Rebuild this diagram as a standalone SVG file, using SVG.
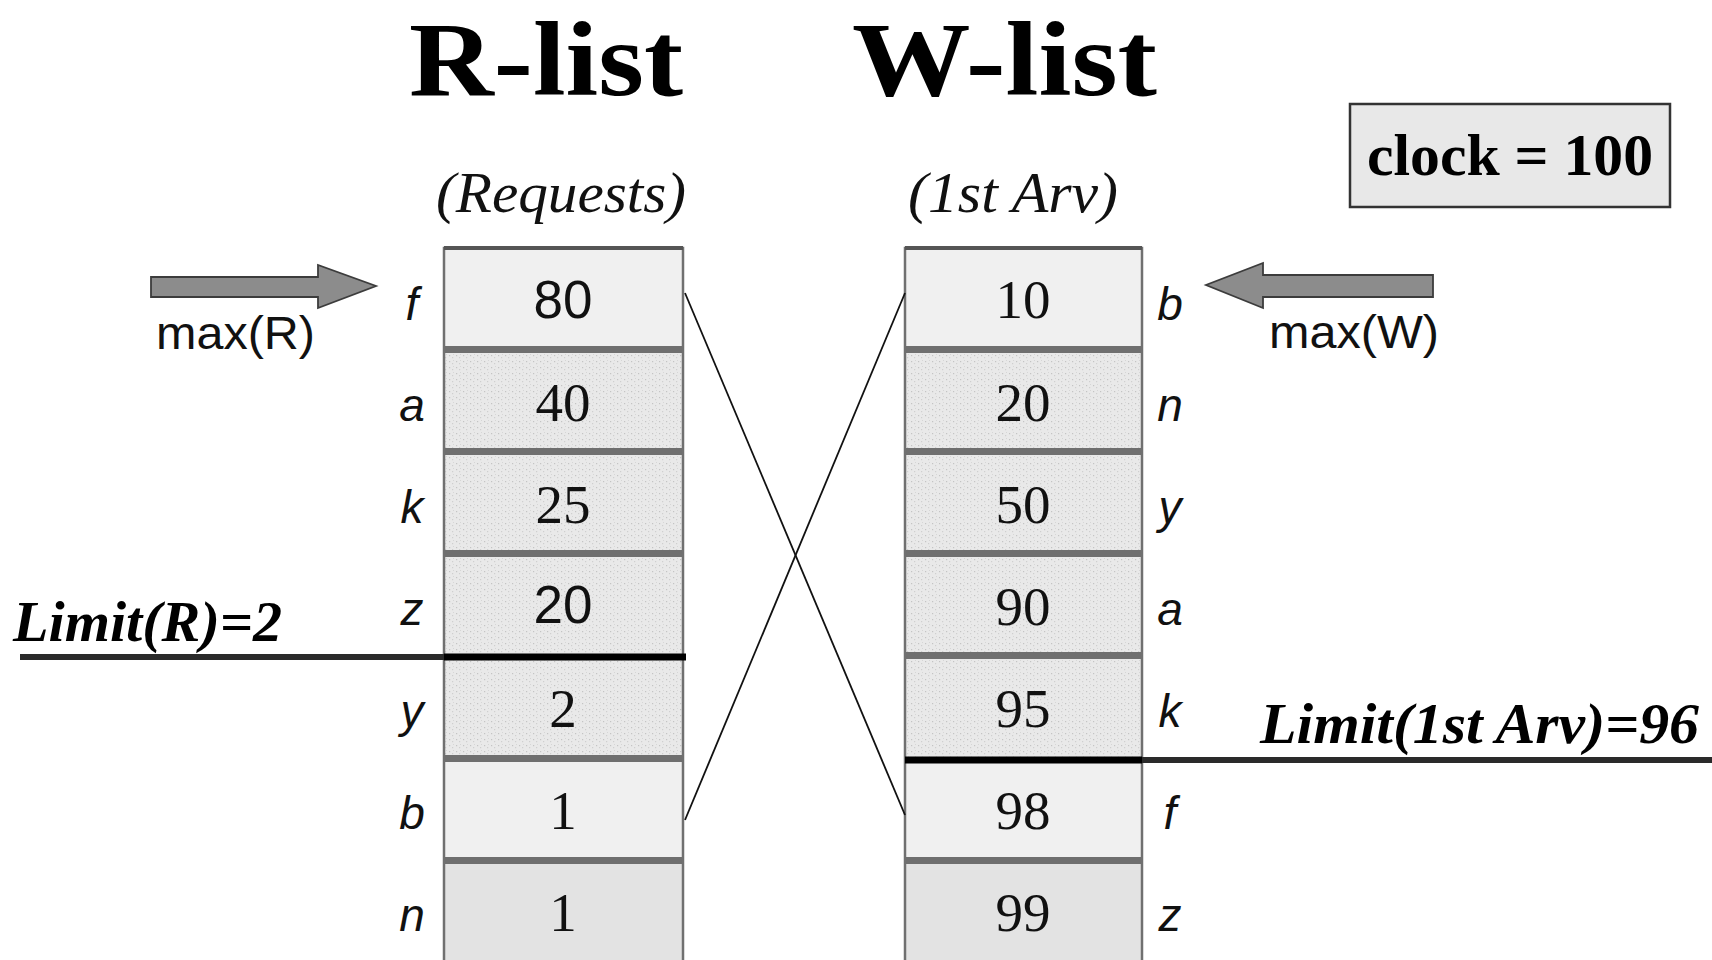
<svg xmlns="http://www.w3.org/2000/svg" width="1712" height="960" viewBox="0 0 1712 960">
  <defs>
    <!-- halftone-like speckle for the shaded cells -->
    <pattern id="speckle" width="7" height="6" patternUnits="userSpaceOnUse">
      <rect width="7" height="6" fill="#e9e9e9"/>
      <rect x="1" y="1" width="1.2" height="1.2" fill="#c4c4c4"/>
      <rect x="4" y="3" width="1.2" height="1.2" fill="#cfcfcf"/>
      <rect x="5" y="0" width="1" height="1" fill="#d6d6d6"/>
    </pattern>
    <style>
      .title { font-family: "Liberation Serif", "Times New Roman", serif; font-weight: bold; font-size: 106px; fill: #000; }
      .sub { font-family: "Liberation Serif", "Times New Roman", serif; font-style: italic; font-size: 58px; fill: #111; }
      .limit { font-family: "Liberation Serif", "Times New Roman", serif; font-style: italic; font-weight: bold; font-size: 57px; fill: #000; }
      .num { font-family: "Liberation Serif", "Times New Roman", serif; font-size: 55px; fill: #111; text-anchor: middle; }
      .numsans { font-family: "Liberation Sans", Arial, sans-serif; font-size: 53px; fill: #111; text-anchor: middle; }
      .key { font-family: "Liberation Sans", Arial, sans-serif; font-style: italic; font-size: 46px; fill: #111; text-anchor: middle; }
      .lbl { font-family: "Liberation Sans", Arial, sans-serif; font-size: 46px; fill: #111; }
      .cell-light { fill: #f0f0f0; }
      .cell-dark { fill: #e3e3e3; }
      .cell-dot { fill: url(#speckle); }
      .band { fill: #6f6f6f; }
      .frame { fill: none; stroke: #707070; stroke-width: 2.5; }
      .arrow { fill: #8c8c8c; stroke: #3c3c3c; stroke-width: 1.8; stroke-linejoin: miter; }
      .cut { stroke: #2a2a2a; stroke-width: 6; }
      .link { stroke: #111; stroke-width: 1.8; fill: none; }
    </style>
  </defs>

  <rect width="1712" height="960" fill="#ffffff"/>

  <!-- headings -->
  <g id="headings">
    <text class="title" x="409" y="95" textLength="274" lengthAdjust="spacingAndGlyphs">R-list</text>
    <text class="title" x="852" y="95" textLength="305" lengthAdjust="spacingAndGlyphs">W-list</text>
    <text class="sub" x="436" y="212" textLength="250" lengthAdjust="spacingAndGlyphs">(Requests)</text>
    <text class="sub" x="908" y="212" textLength="210" lengthAdjust="spacingAndGlyphs">(1st Arv)</text>
  </g>

  <!-- clock -->
  <g id="clock">
    <rect x="1350" y="104" width="320" height="103" fill="#e8e8e8" stroke="#333" stroke-width="2.5"/>
    <text x="1367" y="175" font-family="Liberation Serif, Times New Roman, serif" font-weight="bold" font-size="60" fill="#000" textLength="286" lengthAdjust="spacingAndGlyphs">clock = 100</text>
  </g>

  <!-- R-list column -->
  <g id="rlist">
    <g id="r-f"><rect class="cell-light" x="444" y="248" width="239" height="102"/><text class="numsans" x="563" y="318">80</text><text class="key" x="412" y="320">f</text></g>
    <g id="r-a"><rect class="cell-dot" x="444" y="350" width="239" height="102"/><text class="num" x="563" y="421">40</text><text class="key" x="412" y="421">a</text></g>
    <g id="r-k"><rect class="cell-dot" x="444" y="452" width="239" height="102"/><text class="num" x="563" y="523">25</text><text class="key" x="412" y="523">k</text></g>
    <g id="r-z"><rect class="cell-dot" x="444" y="554" width="239" height="102"/><text class="numsans" x="563" y="623">20</text><text class="key" x="412" y="625">z</text></g>
    <g id="r-y"><rect class="cell-dot" x="444" y="656" width="239" height="102"/><text class="num" x="563" y="727">2</text><text class="key" x="412" y="727">y</text></g>
    <g id="r-b"><rect class="cell-light" x="444" y="758" width="239" height="102"/><text class="num" x="563" y="829">1</text><text class="key" x="412" y="829">b</text></g>
    <g id="r-n"><rect class="cell-dark" x="444" y="860" width="239" height="104"/><text class="num" x="563" y="931">1</text><text class="key" x="412" y="931">n</text></g>
    <rect class="band" x="444" y="346" width="239" height="7"/>
    <rect class="band" x="444" y="448" width="239" height="7"/>
    <rect class="band" x="444" y="550" width="239" height="7"/>
    <rect class="band" x="444" y="755" width="239" height="7"/>
    <rect class="band" x="444" y="857" width="239" height="7"/>
    <rect class="frame" x="444" y="248" width="239" height="720"/>
    <rect x="444" y="246" width="239" height="4" fill="#555"/>
  </g>

  <!-- W-list column -->
  <g id="wlist">
    <g id="w-b"><rect class="cell-light" x="905" y="248" width="237" height="102"/><text class="num" x="1023" y="318">10</text><text class="key" x="1170" y="320">b</text></g>
    <g id="w-n"><rect class="cell-dot" x="905" y="350" width="237" height="102"/><text class="num" x="1023" y="421">20</text><text class="key" x="1170" y="421">n</text></g>
    <g id="w-y"><rect class="cell-dot" x="905" y="452" width="237" height="102"/><text class="num" x="1023" y="523">50</text><text class="key" x="1170" y="523">y</text></g>
    <g id="w-a"><rect class="cell-dot" x="905" y="554" width="237" height="102"/><text class="num" x="1023" y="625">90</text><text class="key" x="1170" y="625">a</text></g>
    <g id="w-k"><rect class="cell-dot" x="905" y="656" width="237" height="102"/><text class="num" x="1023" y="727">95</text><text class="key" x="1170" y="727">k</text></g>
    <g id="w-f"><rect class="cell-light" x="905" y="758" width="237" height="102"/><text class="num" x="1023" y="829">98</text><text class="key" x="1170" y="829">f</text></g>
    <g id="w-z"><rect class="cell-dark" x="905" y="860" width="237" height="104"/><text class="num" x="1023" y="931">99</text><text class="key" x="1170" y="931">z</text></g>
    <rect class="band" x="905" y="346" width="237" height="7"/>
    <rect class="band" x="905" y="448" width="237" height="7"/>
    <rect class="band" x="905" y="550" width="237" height="7"/>
    <rect class="band" x="905" y="652" width="237" height="7"/>
    <rect class="band" x="905" y="857" width="237" height="7"/>
    <rect class="frame" x="905" y="248" width="237" height="720"/>
    <rect x="905" y="246" width="237" height="4" fill="#555"/>
  </g>

  <!-- max pointers -->
  <g id="max-r">
    <polygon class="arrow" points="151,277 318,277 318,265 376,286 318,308 318,297 151,297"/>
    <text class="lbl" x="156" y="349" textLength="159" lengthAdjust="spacingAndGlyphs">max(R)</text>
  </g>
  <g id="max-w">
    <polygon class="arrow" points="1433,275 1263,275 1263,263 1206,285 1263,308 1263,297 1433,297"/>
    <text class="lbl" x="1269" y="348" textLength="170" lengthAdjust="spacingAndGlyphs">max(W)</text>
  </g>

  <!-- limit cut lines -->
  <g id="limit-r">
    <line class="cut" x1="20" y1="657" x2="686" y2="657"/>
    <line x1="444" y1="657" x2="686" y2="657" stroke="#000" stroke-width="7"/>
    <text class="limit" x="13" y="641" textLength="269" lengthAdjust="spacingAndGlyphs">Limit(R)=2</text>
  </g>
  <g id="limit-w">
    <line class="cut" x1="905" y1="760" x2="1712" y2="760"/>
    <line x1="905" y1="760" x2="1142" y2="760" stroke="#000" stroke-width="7"/>
    <text class="limit" x="1260" y="743" textLength="439" lengthAdjust="spacingAndGlyphs">Limit(1st Arv)=96</text>
  </g>

  <!-- cross links between the two lists -->
  <g id="connectors">
    <line class="link" x1="685" y1="293" x2="905" y2="815"/>
    <line class="link" x1="685" y1="820" x2="905" y2="293"/>
  </g>
</svg>
